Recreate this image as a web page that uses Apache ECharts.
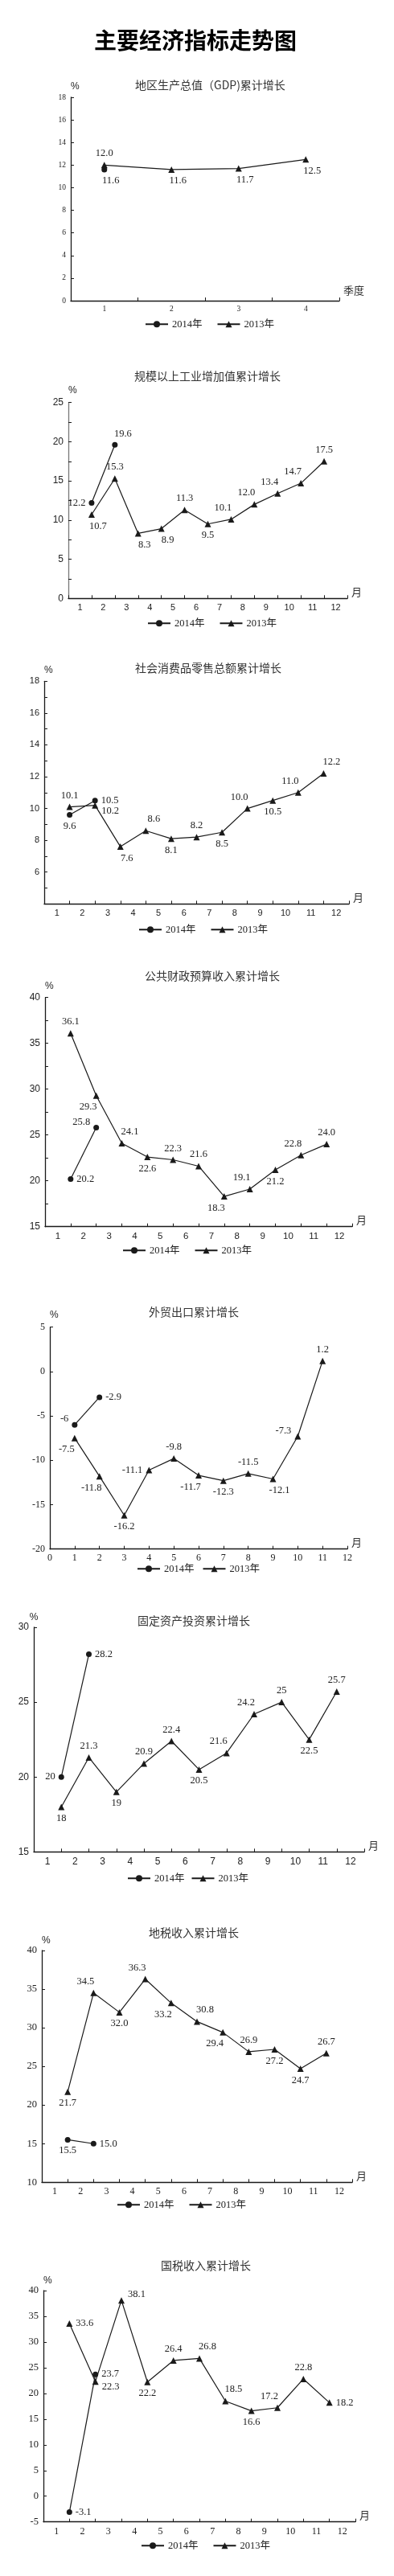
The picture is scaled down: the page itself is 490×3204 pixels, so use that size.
<!DOCTYPE html>
<html><head><meta charset="utf-8">
<script src="https://cdn.jsdelivr.net/npm/echarts@6/dist/echarts.min.js"></script>
<style>html,body{margin:0;padding:0;background:#fff}#c{width:490px;height:3204px}</style>
</head><body><div id="c"></div>
<script>
// ---------- data ----------
const quarters = ['1', '2', '3', '4'];
const months = ['1', '2', '3', '4', '5', '6', '7', '8', '9', '10', '11', '12'];
const seriesNames = ['2014年', '2013年'];

const gdp2014 = [11.6];
const gdp2013 = [12.0, 11.6, 11.7, 12.5];

const ind2014 = [12.2, 19.6];
const ind2013 = [10.7, 15.3, 8.3, 8.9, 11.3, 9.5, 10.1, 12.0, 13.4, 14.7, 17.5];

const retail2014 = [9.6, 10.5];
const retail2013 = [10.1, 10.2, 7.6, 8.6, 8.1, 8.2, 8.5, 10.0, 10.5, 11.0, 12.2];

const fiscal2014 = [20.2, 25.8];
const fiscal2013 = [36.1, 29.3, 24.1, 22.6, 22.3, 21.6, 18.3, 19.1, 21.2, 22.8, 24.0];

const export2014 = [-6, -2.9];
const export2013 = [-7.5, -11.8, -16.2, -11.1, -9.8, -11.7, -12.3, -11.5, -12.1, -7.3, 1.2];

const invest2014 = [20, 28.2];
const invest2013 = [18, 21.3, 19, 20.9, 22.4, 20.5, 21.6, 24.2, 25, 22.5, 25.7];

const localTax2014 = [15.5, 15.0];
const localTax2013 = [21.7, 34.5, 32.0, 36.3, 33.2, 30.8, 29.4, 26.9, 27.2, 24.7, 26.7];

const natTax2014 = [-3.1, 23.7];
const natTax2013 = [33.6, 22.3, 38.1, 22.2, 26.4, 26.8, 18.5, 16.6, 17.2, 22.8, 18.2];

// ---------- label placement (style, kept apart from data) ----------
const LP = {
  gdp: [['br'], ['t', 'br', 'br', 'br']],
  ind: [['l', 'tr'], ['br', 't', 'br', 'br', 't', 'b', 'tl', 'tl', 'tl', 'tl', 't']],
  retail: [['b', 'r'], ['t', 'rb', 'br', 'tr', 'b', 't', 'b', 'tl', 'b', 'tl', 'tr']],
  fiscal: [['r', 'lt'], ['t', 'bl', 'tr', 'b', 't', 't', 'bl', 'tl', 'b', 'tl', 't']],
  exp: [['lt', 'r'], ['bl', 'bl', 'b', 'l', 't', 'bl', 'b', 't', 'br', 'lt', 't']],
  inv: [['l', 'r'], ['b', 't', 'b', 't', 't', 'b', 'tl', 'tl', 't', 'b', 't']],
  lt: [['b', 'r'], ['b', 'tl', 'b', 'tl', 'bl', 'tr', 'bl', 't', 'b', 'b', 't']],
  nt: [['r', 'r'], ['r', 'rb', 'rt', 'b', 't', 'tr', 'tr', 'b', 'tl', 't', 'r']]
};

const SERIF = "'Liberation Serif','Times New Roman','Noto Sans CJK SC',serif";
const SANS = "'Liberation Sans',Arial,'Noto Sans CJK SC',sans-serif";
const CJK = "'Noto Sans CJK SC','Noto Sans CJK TC',sans-serif";

const charts = [
  { title: '地区生产总值（GDP)累计增长', tl: [168, 99], grid: [88, 121, 334, 253], y: [0, 18, 2], minor: false, yf: [SERIF, 9.5], xf: [SERIF, 9.5], kind: 'q', xName: '季度', d: [gdp2014, gdp2013], lp: LP.gdp, dec: 1, legend: [180, 397, 18], pct: ['left', 7] },
  { title: '规模以上工业增加值累计增长', tl: [167, 461], grid: [85, 500.7, 347, 243.6], y: [0, 25, 5], minor: true, yf: [SANS, 12], xf: [SANS, 11], kind: 'm', xName: '月', d: [ind2014, ind2013], lp: LP.ind, dec: 1, legend: [183, 769, 18], pct: ['left', 9], yLine: '#777' },
  { title: '社会消费品零售总额累计增长', tl: [168, 824], grid: [55, 847.3, 379, 277], y: [4, 18, 2], minor: true, hideMin: true, yf: [SANS, 11], xf: [SANS, 11], kind: 'm', xName: '月', d: [retail2014, retail2013], lp: LP.retail, dec: 1, legend: [172, 1150, 18], pct: ['left', 8] },
  { title: '公共财政预算收入累计增长', tl: [180, 1207], grid: [56, 1240.7, 382, 285], y: [15, 40, 5], minor: true, yf: [SANS, 12], xf: [SANS, 11.5], kind: 'm', xName: '月', d: [fiscal2014, fiscal2013], lp: LP.fiscal, dec: 1, legend: [152, 1549, 18], pct: ['left', 8] },
  { title: '外贸出口累计增长', tl: [185, 1625], grid: [62, 1650.7, 370, 276], y: [-20, 5, 5], minor: false, yf: [SERIF, 12], xf: [SERIF, 12], kind: 'v', xName: '月', d: [export2014, export2013], lp: LP.exp, dec: null, legend: [170, 1945, 10], pct: ['left', 9] },
  { title: '固定资产投资累计增长', tl: [171, 2009], grid: [42, 2024, 411, 279.3], y: [15, 30, 5], minor: false, yf: [SANS, 12], xf: [SANS, 12], kind: 'm', xName: '月', d: [invest2014, invest2013], lp: LP.inv, dec: null, legend: [158, 2330, 8], pct: ['center', 6] },
  { title: '地税收入累计增长', tl: [185, 2397], grid: [52, 2426, 386, 288.3], y: [10, 40, 5], minor: false, yf: [SERIF, 12.5], xf: [SERIF, 12], kind: 'm', xName: '月', d: [localTax2014, localTax2013], lp: LP.lt, dec: 1, legend: [145, 2736, 18], pct: ['left', 6] },
  { title: '国税收入累计增长', tl: [200, 2811], grid: [54, 2849, 388, 287.7], y: [-5, 40, 5], minor: false, yf: [SERIF, 12.5], xf: [SERIF, 12], kind: 'm', xName: '月', d: [natTax2014, natTax2013], lp: LP.nt, dec: 1, legend: [175, 3160, 18], pct: ['left', 6] }
];

const LABEL_MAP = {
  t: ['top', [0, 0]], b: ['bottom', [0, 0]], l: ['left', [0, 0]], r: ['right', [0, 0]],
  tr: ['top', [10, 0]], tl: ['top', [-10, 0]], br: ['bottom', [8, 0]], bl: ['bottom', [-10, 0]],
  rt: ['right', [0, -7]], rb: ['right', [0, 7]], lt: ['left', [0, -7]], lb: ['left', [0, 7]]
};

const INK = '#1a1a1a';
const option = {
  animation: false,
  backgroundColor: '#fff',
  title: [{
    text: '主要经济指标走势图', left: 117, top: 36, padding: 0,
    textStyle: { fontFamily: CJK, fontSize: 28, fontWeight: 'bold', color: '#000' }
  }],
  grid: [], xAxis: [], yAxis: [], legend: [], series: []
};

charts.forEach((c, i) => {
  option.title.push({
    text: c.title, left: c.tl[0], top: c.tl[1], padding: 0,
    textStyle: { fontFamily: CJK, fontSize: 14, fontWeight: 'normal', color: '#333' }
  });
  option.grid.push({ left: c.grid[0], top: c.grid[1], width: c.grid[2], height: c.grid[3], containLabel: false, outerBoundsMode: 'none' });

  const axisLine = { show: true, onZero: false, lineStyle: { color: INK, width: 1.3 } };
  const tick = { show: true, inside: true, length: 4, lineStyle: { color: INK, width: 1 } };
  const xName = {
    name: c.xName, nameLocation: 'end', nameGap: 5,
    nameTextStyle: { fontFamily: CJK, fontSize: 13, color: '#333', verticalAlign: 'bottom', padding: [0, 0, c.kind === 'q' ? 6 : 2, 0] }
  };
  if (c.kind === 'v') {
    option.xAxis.push(Object.assign({
      type: 'value', gridIndex: i, min: 0, max: 12, interval: 1,
      axisLine, axisTick: tick, splitLine: { show: false },
      axisLabel: { fontFamily: c.xf[0], fontSize: c.xf[1], color: '#222', margin: 5 }
    }, xName));
  } else {
    option.xAxis.push(Object.assign({
      type: 'category', gridIndex: i, data: c.kind === 'q' ? quarters : months, boundaryGap: true,
      axisLine, axisTick: Object.assign({ alignWithLabel: false, interval: 0 }, tick), splitLine: { show: false },
      axisLabel: { interval: 0, fontFamily: c.xf[0], fontSize: c.xf[1], color: '#222', margin: 6 }
    }, xName));
  }
  // hidden value axis that places the monthly points on the month boundaries
  option.xAxis.push({ type: 'value', gridIndex: i, min: 0, max: 12, show: false });

  option.yAxis.push({
    type: 'value', gridIndex: i, min: c.y[0], max: c.y[1], interval: c.y[2],
    name: '%', nameLocation: 'end', nameGap: c.pct[1],
    nameTextStyle: { fontFamily: SANS, fontSize: 12, color: '#222', align: c.pct[0], verticalAlign: 'bottom' },
    axisLine: { show: true, onZero: false, lineStyle: { color: c.yLine || INK, width: 1.3 } },
    axisTick: tick,
    minorTick: { show: c.minor, splitNumber: 2, length: 4, lineStyle: { color: INK, width: 1 } },
    splitLine: { show: false }, minorSplitLine: { show: false },
    axisLabel: { fontFamily: c.yf[0], fontSize: c.yf[1], color: '#222', margin: 6, showMinLabel: !c.hideMin }
  });

  option.legend.push({
    left: c.legend[0], top: c.legend[1], itemGap: c.legend[2], itemWidth: 28, itemHeight: 10,
    data: seriesNames, selectedMode: false, padding: 0,
    textStyle: { fontFamily: SERIF, fontSize: 12.5, color: '#222' }
  });

  const fmt = p => {
    const v = Array.isArray(p.value) ? p.value[1] : p.value;
    return c.dec == null ? String(v) : v.toFixed(c.dec);
  };
  [0, 1].forEach(k => {
    const vals = c.d[k];
    const codes = c.lp[k];
    const data = vals.map((v, j) => {
      const m = LABEL_MAP[codes[j]];
      return {
        value: c.kind === 'q' ? v : [j + 1, v],
        label: { position: m[0], offset: m[1] }
      };
    });
    option.series.push({
      type: 'line', name: seriesNames[k],
      xAxisIndex: c.kind === 'm' ? 2 * i + 1 : 2 * i, yAxisIndex: i,
      data,
      symbol: k === 0 ? 'circle' : 'triangle', symbolSize: k === 0 ? 7 : 8,
      lineStyle: { color: INK, width: 1.2 }, itemStyle: { color: INK },
      label: { show: true, distance: 4, fontFamily: SERIF, fontSize: 12.5, color: '#222', formatter: fmt },
      emphasis: { disabled: true }, silent: true, z: k === 0 ? 3 : 2
    });
  });
});

const chart = echarts.init(document.getElementById('c'), null, { renderer: 'canvas' });
chart.setOption(option);
</script>
</body></html>
